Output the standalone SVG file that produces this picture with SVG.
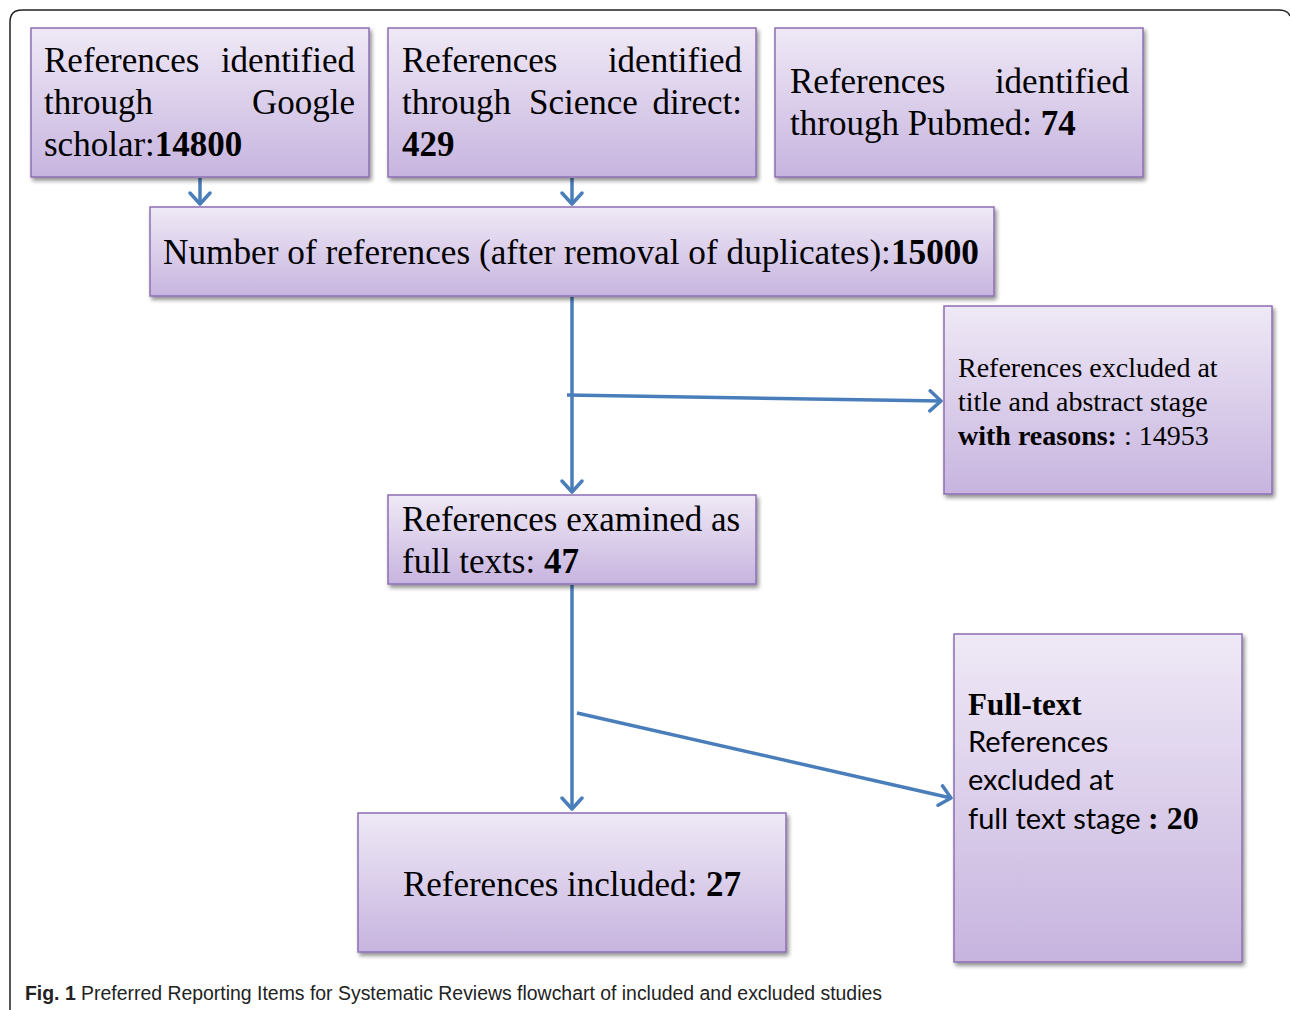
<svg xmlns="http://www.w3.org/2000/svg" width="1290" height="1010" viewBox="0 0 1290 1010">
<defs>
  <linearGradient id="g" x1="0" y1="0" x2="0" y2="1">
    <stop offset="0" stop-color="#efe9f6"/>
    <stop offset="1" stop-color="#c7b4df"/>
  </linearGradient>
  <filter id="sh" x="-5%" y="-5%" width="112%" height="115%">
    <feGaussianBlur in="SourceAlpha" stdDeviation="2"/>
    <feOffset dx="2" dy="3" result="o"/>
    <feComponentTransfer><feFuncA type="linear" slope="0.45"/></feComponentTransfer>
    <feMerge><feMergeNode/><feMergeNode in="SourceGraphic"/></feMerge>
  </filter>
  <marker id="ah" viewBox="0 0 16 24" refX="13" refY="12" markerWidth="16" markerHeight="24" markerUnits="userSpaceOnUse" orient="auto">
    <path d="M2,2 L13,12 L2,22" fill="none" stroke="#4a7ebb" stroke-width="3.5" stroke-linecap="round" stroke-linejoin="round"/>
  </marker>
</defs>
<style>
  .box{fill:url(#g);stroke:#8d6fb4;stroke-width:1.5;filter:url(#sh)}
  .t{font-family:"Liberation Serif","Times New Roman",serif;font-size:35px;fill:#000}
  .s{font-family:"Liberation Serif","Times New Roman",serif;font-size:28px;fill:#000}
  .c{font-family:Lato,"Open Sans","Liberation Sans",sans-serif;font-size:29px;fill:#000}
  .b{font-weight:bold}
  .arr{fill:none;stroke:#4a7ebb;stroke-width:3.5;marker-end:url(#ah)}
</style>
<rect width="1290" height="1010" fill="#fff"/>
<path d="M10,1010 V22 Q10,10 22,10 H1278 Q1288,10 1290,16" fill="none" stroke="#222" stroke-width="1.5"/>

<g id="connectors">
  <line class="arr" x1="200" y1="178" x2="200" y2="204"/>
  <line class="arr" x1="572" y1="178" x2="572" y2="204"/>
  <line class="arr" x1="572" y1="297" x2="572" y2="492"/>
  <line class="arr" x1="567" y1="395" x2="941" y2="401"/>
  <line class="arr" x1="572" y1="585" x2="572" y2="809"/>
  <line class="arr" x1="577" y1="713" x2="951" y2="798"/>
</g>

<g id="google">
  <rect class="box" x="31" y="28" width="338" height="149"/>
  <text class="t" x="44" y="72">References</text>
  <text class="t" x="355" y="72" text-anchor="end">identified</text>
  <text class="t" x="44" y="114">through</text>
  <text class="t" x="355" y="114" text-anchor="end">Google</text>
  <text class="t" x="44" y="156">scholar:<tspan class="b">14800</tspan></text>
</g>

<g id="sciencedirect">
  <rect class="box" x="388" y="28" width="368" height="149"/>
  <text class="t" x="402" y="72">References</text>
  <text class="t" x="742" y="72" text-anchor="end">identified</text>
  <text class="t" x="402" y="114">through</text>
  <text class="t" x="529" y="114">Science</text>
  <text class="t" x="742" y="114" text-anchor="end">direct:</text>
  <text class="t b" x="402" y="156">429</text>
</g>

<g id="pubmed">
  <rect class="box" x="775" y="28" width="368" height="149"/>
  <text class="t" x="790" y="93">References</text>
  <text class="t" x="1129" y="93" text-anchor="end">identified</text>
  <text class="t" x="790" y="135">through Pubmed: <tspan class="b">74</tspan></text>
</g>

<g id="dedup">
  <rect class="box" x="150" y="207" width="844" height="89"/>
  <text class="t" x="163" y="264" textLength="816" lengthAdjust="spacingAndGlyphs">Number of references (after removal of duplicates):<tspan class="b">15000</tspan></text>
</g>

<g id="excluded-title">
  <rect class="box" x="944" y="306" width="328" height="188"/>
  <text class="s" x="958" y="377">References excluded at</text>
  <text class="s" x="958" y="411">title and abstract stage</text>
  <text class="s" x="958" y="445"><tspan class="b">with reasons:</tspan> : 14953</text>
</g>

<g id="fulltext">
  <rect class="box" x="388" y="495" width="368" height="89"/>
  <text class="t" x="402" y="531">References examined as</text>
  <text class="t" x="402" y="573">full texts: <tspan class="b">47</tspan></text>
</g>

<g id="excluded-full">
  <rect class="box" x="954" y="634" width="288" height="328"/>
  <text class="s b" x="968" y="715" style="font-size:31px">Full-text</text>
  <text class="c" x="968" y="752">References</text>
  <text class="c" x="968" y="790">excluded at</text>
  <text class="c" x="968" y="829">full text stage <tspan class="b" style="font-family:'Liberation Serif',serif;font-size:32px">: 20</tspan></text>
</g>

<g id="included">
  <rect class="box" x="358" y="813" width="428" height="139"/>
  <text class="t" x="572" y="896" text-anchor="middle">References included: <tspan class="b">27</tspan></text>
</g>

<text x="25" y="1000" font-family="'Liberation Sans Narrow','Liberation Sans',sans-serif" font-size="20" fill="#222" textLength="857" lengthAdjust="spacingAndGlyphs"><tspan font-weight="bold">Fig. 1</tspan> Preferred Reporting Items for Systematic Reviews flowchart of included and excluded studies</text>
</svg>
